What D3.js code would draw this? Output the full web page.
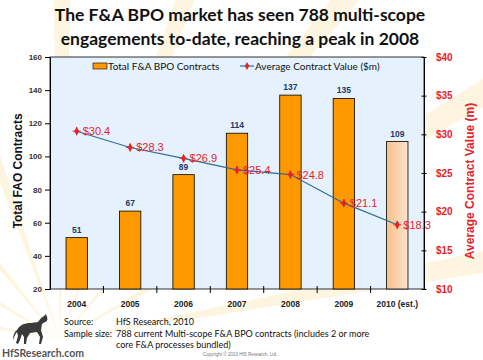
<!DOCTYPE html>
<html>
<head>
<meta charset="utf-8">
<script src="https://cdn.jsdelivr.net/npm/d3@7"></script>
<style>
  body { margin: 0; background: #fff; }
  svg { display: block; }
</style>
</head>
<body>
<div id="vis"></div>
<script>
// chart data
const years = ["2004", "2005", "2006", "2007", "2008", "2009", "2010 (est.)"];
const contracts = [51, 67, 89, 114, 137, 135, 109];
const avgValue = [30.4, 28.3, 26.9, 25.4, 24.8, 21.1, 18.3];
const leftTicks = [20, 40, 60, 80, 100, 120, 140, 160];
const rightTicks = [10, 15, 20, 25, 30, 35, 40];

const WIDTH = 483, HEIGHT = 360;
const MARGINS = {left: 50, right: 59, top: 57, bottom: 71};
const PLOT_W = WIDTH - MARGINS.left - MARGINS.right;
const PLOT_H = HEIGHT - MARGINS.top - MARGINS.bottom;

const svg = d3.select("#vis").append("svg")
    .attr("width", WIDTH)
    .attr("height", HEIGHT);

const defs = svg.append("defs");
const grad = defs.append("linearGradient").attr("id", "estGrad")
    .attr("x1", "0%").attr("x2", "100%").attr("y1", "0%").attr("y2", "0%");
grad.append("stop").attr("offset", "0%").attr("stop-color", "#f9c08a");
grad.append("stop").attr("offset", "100%").attr("stop-color", "#fde3cc");

// faint sunburst behind everything
const rays = svg.append("g").attr("transform", "translate(60,340)");
d3.range(9).forEach(i => {
  const a0 = -Math.PI * (0.05 + i * 0.11), a1 = a0 - 0.05;
  rays.append("path")
      .attr("d", `M0,0 L${600 * Math.cos(a0)},${600 * Math.sin(a0)} L${600 * Math.cos(a1)},${600 * Math.sin(a1)} Z`)
      .attr("fill", "#fbe7b0")
      .attr("opacity", 0.4);
});

// title
svg.append("g").selectAll("text")
    .data(["The F&A BPO market has seen 788 multi-scope", "engagements to-date, reaching a peak in 2008"])
    .join("text")
    .attr("x", 240).attr("y", (d, i) => 21 + i * 24)
    .attr("text-anchor", "middle")
    .attr("font-family", "Lato, 'Open Sans', sans-serif")
    .attr("font-weight", "bold")
    .attr("font-size", "17.5px")
    .attr("fill", "#111")
    .text(d => d);

const g = svg.append("g").attr("transform", `translate(${MARGINS.left},${MARGINS.top})`);

const x = d3.scaleBand().domain(years).range([0, PLOT_W]).paddingInner(0.6).paddingOuter(0.3);
const band = d3.scaleBand().domain(years).range([0, PLOT_W]);
const y = d3.scaleLinear().domain([20, 160]).range([PLOT_H, 0]);
const y2 = d3.scaleLinear().domain([10, 40]).range([PLOT_H, 0]);

// plot background
g.append("rect")
    .attr("width", PLOT_W).attr("height", PLOT_H)
    .attr("fill", "#e5f1fc")
    .attr("stroke", "#000").attr("stroke-width", 0.8);

// bars
g.selectAll(".bar")
    .data(years)
    .join("rect")
    .attr("x", d => x(d))
    .attr("y", (d, i) => y(contracts[i]))
    .attr("width", x.bandwidth())
    .attr("height", (d, i) => PLOT_H - y(contracts[i]))
    .attr("fill", (d, i) => i === years.length - 1 ? "url(#estGrad)" : "#ff9900")
    .attr("stroke", "#000").attr("stroke-width", 0.8);

g.selectAll(".barlabel")
    .data(years)
    .join("text")
    .attr("x", d => x(d) + x.bandwidth() / 2)
    .attr("y", (d, i) => y(contracts[i]) - 5)
    .attr("text-anchor", "middle")
    .attr("font-family", "Arial, 'Liberation Sans', sans-serif")
    .attr("font-weight", "bold")
    .attr("font-size", "8.5px")
    .attr("fill", "#1f3864")
    .text((d, i) => contracts[i]);

// axes
const axL = g.append("g")
    .call(d3.axisLeft(y).tickValues(leftTicks).tickSize(5).tickSizeOuter(0));
axL.select(".domain").attr("stroke", "#000");
axL.selectAll("text")
    .attr("font-family", "Arial, 'Liberation Sans', sans-serif")
    .attr("font-size", "8px").attr("font-weight", "bold").attr("fill", "#333");

const axR = g.append("g").attr("transform", `translate(${PLOT_W},0)`)
    .call(d3.axisRight(y2).tickValues(rightTicks).tickSize(5).tickSizeOuter(0)
      .tickFormat(d => "$" + d));
axR.selectAll("line").attr("transform", "translate(-2.5,0)");
axR.selectAll("text")
    .attr("x", 12)
    .attr("font-family", "Arial, 'Liberation Sans', sans-serif")
    .attr("font-size", "10px").attr("font-weight", "bold").attr("fill", "#e3242b");

const axB = g.append("g").attr("transform", `translate(0,${PLOT_H})`)
    .call(d3.axisBottom(band).tickSize(0).tickSizeOuter(0));
axB.select(".domain").remove();
axB.selectAll("text")
    .attr("y", 12)
    .attr("font-family", "Arial, 'Liberation Sans', sans-serif")
    .attr("font-size", "8.5px").attr("font-weight", "bold").attr("fill", "#222");
// boundary ticks on x axis
g.append("g").selectAll("line")
    .data(years.slice(1))
    .join("line")
    .attr("x1", d => band(d)).attr("x2", d => band(d))
    .attr("y1", PLOT_H - 3).attr("y2", PLOT_H + 4)
    .attr("stroke", "#000");

// line series
const line = d3.line()
    .x((d, i) => band(years[i]) + band.bandwidth() / 2)
    .y(d => y2(d));
g.append("path")
    .datum(avgValue)
    .attr("d", line)
    .attr("fill", "none")
    .attr("stroke", "#2f6c99")
    .attr("stroke-width", 1.2);

g.selectAll(".marker")
    .data(avgValue)
    .join("path")
    .attr("transform", (d, i) => `translate(${band(years[i]) + band.bandwidth() / 2},${y2(d)})`)
    .attr("d", d3.symbol().type(d3.symbolDiamond).size(22))
    .attr("fill", "#e3242b");
g.selectAll(".cross")
    .data(avgValue)
    .join("path")
    .attr("transform", (d, i) => `translate(${band(years[i]) + band.bandwidth() / 2},${y2(d)})`)
    .attr("d", "M-4,0H4M0,-4V4")
    .attr("stroke", "#e3242b").attr("stroke-width", 1);

g.selectAll(".vlabel")
    .data(avgValue)
    .join("text")
    .attr("x", (d, i) => band(years[i]) + band.bandwidth() / 2 + 6)
    .attr("y", d => y2(d) + 4)
    .attr("font-family", "Arial, 'Liberation Sans', sans-serif")
    .attr("font-size", "11px")
    .attr("fill", "#e3242b")
    .text(d => "$" + d.toFixed(1));

// legend
const leg = svg.append("g").attr("font-family", "Lato, 'Open Sans', sans-serif")
    .attr("font-size", "10px").attr("fill", "#111");
leg.append("rect").attr("x", 93).attr("y", 63).attr("width", 14).attr("height", 6)
    .attr("fill", "#ff9900").attr("stroke", "#000").attr("stroke-width", 0.6);
leg.append("text").attr("x", 108).attr("y", 69.5).text("Total F&A BPO Contracts");
leg.append("line").attr("x1", 240).attr("x2", 254).attr("y1", 66).attr("y2", 66)
    .attr("stroke", "#2f6c99").attr("stroke-width", 1.2);
leg.append("path").attr("transform", "translate(247,66)")
    .attr("d", d3.symbol().type(d3.symbolDiamond).size(18)).attr("fill", "#e3242b");
leg.append("text").attr("x", 255).attr("y", 69.5).text("Average Contract Value ($m)");

// axis titles
svg.append("text")
    .attr("transform", `translate(22,${MARGINS.top + PLOT_H / 2 - 2}) rotate(-90)`)
    .attr("text-anchor", "middle")
    .attr("font-family", "Arial, 'Liberation Sans', sans-serif")
    .attr("font-weight", "bold").attr("font-size", "12px").attr("fill", "#111")
    .text("Total FAO Contracts");
svg.append("text")
    .attr("transform", `translate(474,${MARGINS.top + PLOT_H / 2 + 8}) rotate(-90)`)
    .attr("text-anchor", "middle")
    .attr("font-family", "Arial, 'Liberation Sans', sans-serif")
    .attr("font-weight", "bold").attr("font-size", "12px").attr("fill", "#e3242b")
    .text("Average Contract Value (m)");

// footer
const foot = svg.append("g").attr("font-family", "Lato, 'Open Sans', sans-serif")
    .attr("font-size", "9px").attr("fill", "#111");
foot.append("text").attr("x", 64).attr("y", 325).text("Source:");
foot.append("text").attr("x", 116).attr("y", 325).text("HfS Research, 2010");
foot.append("text").attr("x", 64).attr("y", 337).text("Sample size:");
foot.append("text").attr("x", 116).attr("y", 337).text("788 current Multi-scope F&A BPO contracts (includes 2 or more");
foot.append("text").attr("x", 116).attr("y", 348).text("core F&A processes bundled)");

svg.append("text").attr("x", 2).attr("y", 357)
    .attr("font-family", "Lato, 'Open Sans', sans-serif")
    .attr("font-weight", "bold").attr("font-size", "10.5px").attr("fill", "#555")
    .text("HfSResearch.com");
svg.append("text").attr("x", 240).attr("y", 356).attr("text-anchor", "middle")
    .attr("font-family", "Arial, 'Liberation Sans', sans-serif")
    .attr("font-size", "4.5px").attr("fill", "#777")
    .text("Copyright © 2010 HfS Research, Ltd.");

// horse logo silhouette
svg.append("path")
    .attr("d", "M17,330 C20,324 26,323 31,323 L38,322 C40,319 42,317 44,316 L46,314 L47,317 C48,319 47,322 45,322 L42,324 L41,330 L43,337 L41,344 L39,344 L40,337 L37,332 L30,333 L27,338 L26,344 L24,344 L24,337 L22,334 L20,340 L18,344 L16,343 L18,336 L17,332 C15,334 14,338 13,340 C13,336 14,332 17,330 Z")
    .attr("fill", "#3a3a3a");
</script>
</body>
</html>
